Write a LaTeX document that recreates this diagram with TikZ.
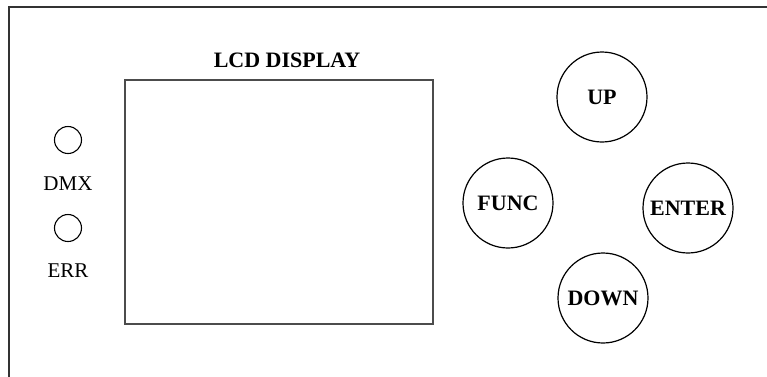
\documentclass[tikz,border=0pt]{standalone}
\usepackage{fontspec}
\setmainfont{Liberation Serif}
\usetikzlibrary{positioning}

\tikzset{
	btn/.style={draw, circle, line width=1.2pt, minimum size=90pt, inner sep=0pt, font=\fontsize{22}{26}\selectfont\bfseries},
	led/.style={draw, circle, line width=1.1pt, minimum size=27pt, inner sep=0pt},
	tag/.style={inner sep=0pt, font=\fontsize{21}{25}\selectfont},
}

\begin{document}
\begin{tikzpicture}[x=1pt, y=-1pt]
	\clip (0,0) rectangle (767,376);
	% Panel frame
	\draw[line width=1.6pt, black!80] (9,7) rectangle (780,390);
	
	% Display
	\node[draw, line width=2pt, black!70, minimum width=308pt, minimum height=244pt, inner sep=0pt] (lcd) at (279,202) {};
	\node[tag, font=\fontsize{22}{26}\selectfont\bfseries, anchor=south, above=11pt of lcd.north, xshift=8pt] (lcdtag) {LCD DISPLAY};
	
	% Indicators
	\node[led] (dmx) at (68,140) {};
	\node[tag, below=22pt of dmx] (dmxtag) {DMX};
	\node[led] (err) at (68,228) {};
	\node[tag, below=21pt of err] (errtag) {ERR};
	
	% Keys
	\node[btn] (up) at (602,97) {UP};
	\node[btn] (func) at (508,203) {FUNC};
	\node[btn] (enter) at (688,208) {ENTER};
	\node[btn] (down) at (603,298) {DOWN};
\end{tikzpicture}
\end{document}
